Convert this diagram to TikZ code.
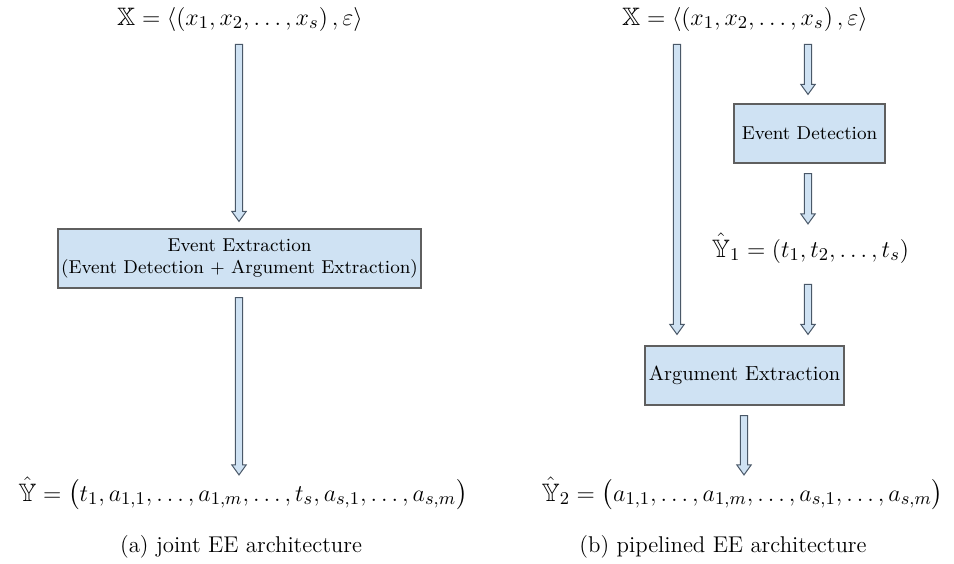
\documentclass[tikz,border=0pt]{standalone}
\usepackage{amsmath,amssymb}
\usetikzlibrary{calc}
\definecolor{boxfill}{HTML}{CFE2F3}
\definecolor{boxline}{HTML}{5F5F5F}
\definecolor{arrowfill}{HTML}{CFE2F3}
\definecolor{arrowline}{HTML}{4A5868}
\tikzset{
  fat/.style={draw=arrowline, fill=arrowfill, line width=0.5pt, line join=miter,
    to path={let \p1=(\tikztostart), \p2=(\tikztotarget) in
      (\x1-1.8pt,\y1) -- (\x1+1.8pt,\y1) -- (\x1+1.8pt,\y2+5pt) -- (\x1+3.6pt,\y2+5pt)
      -- (\x1,\y2) -- (\x1-3.6pt,\y2+5pt) -- (\x1-1.8pt,\y2+5pt) -- cycle}},
  blk/.style={draw=boxline, fill=boxfill, line width=0.6pt, inner sep=0pt, align=center},
  eq/.style={inner sep=0pt, anchor=base, font=\fontsize{12.6}{15}\selectfont},
  captxt/.style={inner sep=0pt, anchor=base, font=\fontsize{11.4}{13}\selectfont},
}
\begin{document}
\begin{tikzpicture}[x=0.5pt, y=-0.5pt]
\useasboundingbox (0,0) rectangle (954,563);
% columns for arrows
\coordinate (cA) at (239,0);
\coordinate (cB) at (677,0);
\coordinate (cC) at (808,0);
\coordinate (cD) at (744,0);
% left panel
\node[eq] (X1) at (240,25) {$\mathbb{X} = \langle (x_1, x_2, \ldots, x_s)\,, \varepsilon \rangle$};
\node[blk, minimum width=181.5pt, minimum height=29.5pt, font=\fontsize{9.3}{11}\selectfont] (EE) at (239.5,258.5)
  {Event Extraction\\(Event Detection $+$ Argument Extraction)};
\node[eq] (Y) at (243,501) {$\hat{\mathbb{Y}} = \big(t_1, a_{1,1}, \ldots, a_{1,m}, \ldots, t_s, a_{s,1}, \ldots, a_{s,m}\big)$};
\node[captxt] (capa) at (241,552) {(a) joint EE architecture};
% right panel
\node[eq] (X2) at (745,25) {$\mathbb{X} = \langle (x_1, x_2, \ldots, x_s)\,, \varepsilon \rangle$};
\node[blk, minimum width=75.5pt, minimum height=29.5pt, font=\fontsize{9.3}{11}\selectfont] (ED) at (809.5,133.5) {Event Detection};
\node[eq] (Y1) at (810.5,257) {$\hat{\mathbb{Y}}_1 = (t_1, t_2, \ldots, t_s)$};
\node[blk, minimum width=99.5pt, minimum height=29.5pt, font=\fontsize{10.2}{12}\selectfont] (AE) at (744.5,375.5) {Argument Extraction};
\node[eq] (Y2) at (742.5,501) {$\hat{\mathbb{Y}}_2 = \big(a_{1,1}, \ldots, a_{1,m}, \ldots, a_{s,1}, \ldots, a_{s,m}\big)$};
\node[captxt] (capb) at (723,552) {(b) pipelined EE architecture};
% arrows
\draw[fat] ($(cA |- X1.south)+(0,13)$) to ($(cA |- EE.north)+(0,-7)$);
\draw[fat] ($(cA |- EE.south)+(0,9)$) to ($(cA |- Y.north)+(0,-2)$);
\draw[fat] ($(cB |- X2.south)+(0,13)$) to ($(cB |- AE.north)+(0,-11)$);
\draw[fat] ($(cC |- X2.south)+(0,13)$) to ($(cC |- ED.north)+(0,-9)$);
\draw[fat] ($(cC |- ED.south)+(0,10)$) to ($(cC |- Y1.north)+(0,-9)$);
\draw[fat] ($(cC |- Y1.south)+(0,21)$) to ($(cC |- AE.north)+(0,-11)$);
\draw[fat] ($(cD |- AE.south)+(0,10)$) to ($(cD |- Y2.north)+(0,-2)$);
\end{tikzpicture}
\end{document}
